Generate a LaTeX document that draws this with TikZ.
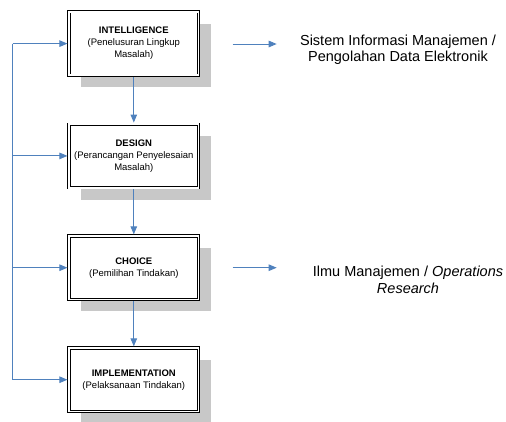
\documentclass[tikz,border=0pt]{standalone}
\usepackage{fontspec}
\setmainfont{Liberation Sans}
\usetikzlibrary{arrows.meta,shadows}
\definecolor{flowblue}{RGB}{79,129,189}
\definecolor{shadowgray}{RGB}{200,200,200}
\begin{document}
\begin{tikzpicture}[x=1pt,y=-1pt,
  stage/.style={draw=black, line width=0.7pt, double=white, double distance=1.8pt,
    fill=white, minimum width=129.5pt, minimum height=63.5pt, inner sep=0pt,
    outer sep=1.6pt, align=center, font=\fontsize{9.5}{12}\selectfont,
    general shadow={fill=shadowgray, shadow xshift=12pt, shadow yshift=-12pt}},
  arr/.style={draw=flowblue, line width=0.9pt, -{Triangle[length=8pt,width=6.5pt]}},
  ln/.style={draw=flowblue, line width=0.9pt},
  side/.style={align=center, font=\fontsize{14.5}{16.5}\selectfont}]
\useasboundingbox (0,0) rectangle (506,421);
\node[stage] (b1) at (133.8,43.6) {\textbf{INTELLIGENCE}\\(Penelusuran Lingkup\\Masalah)};
\node[stage] (b2) at (133.8,155.9) {\textbf{DESIGN}\\(Perancangan Penyelesaian\\Masalah)};
\node[stage] (b3) at (133.8,267.7) {\textbf{CHOICE}\\(Pemilihan Tindakan)};
\node[stage] (b4) at (133.8,379.7) {\textbf{IMPLEMENTATION}\\(Pelaksanaan Tindakan)};
\coordinate (lx) at (12.5,0);
\draw[ln] (b1.west -| lx) -- (b4.west -| lx);
\foreach \b in {b1,b2,b3,b4} \draw[arr] (\b.west -| lx) -- (\b.west);
\draw[arr] (b1.south) -- (b2.north);
\draw[arr] (b2.south) -- (b3.north);
\draw[arr] (b3.south) -- (b4.north);
\node[side] (t1) at (398,49.5) {Sistem Informasi Manajemen /\\Pengolahan Data Elektronik};
\node[side] (t2) at (408,280) {Ilmu Manajemen / \textit{Operations}\\\textit{Research}};
\coordinate (r1) at (232.7,44);
\coordinate (r2) at (232.7,267.7);
\draw[arr] (r1) -- ++(44,0) coordinate (r1e);
\draw[arr] (r2) -- ++(44,0) coordinate (r2e);
\end{tikzpicture}
\end{document}
